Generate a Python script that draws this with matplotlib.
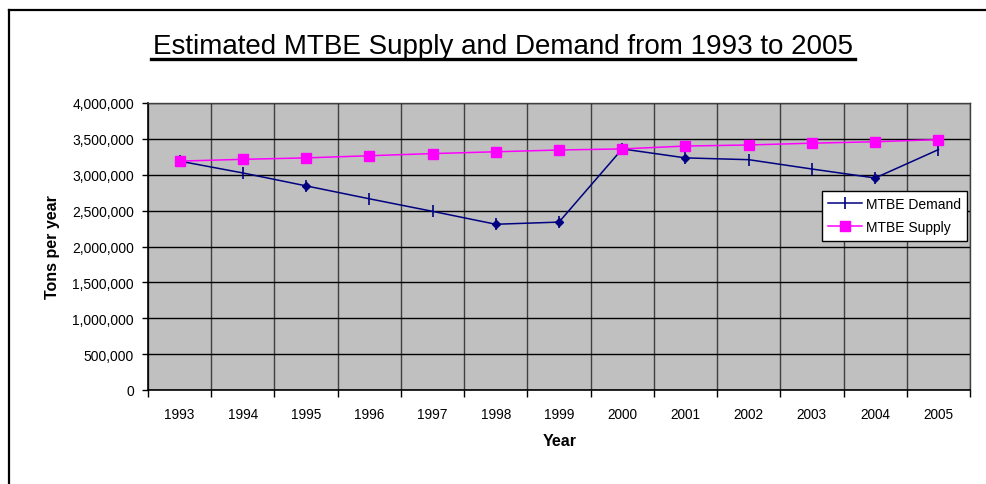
import matplotlib
matplotlib.use("Agg")
import matplotlib.pyplot as plt
from matplotlib.lines import Line2D
from matplotlib.ticker import FuncFormatter, FixedLocator

years = ["1993", "1994", "1995", "1996", "1997", "1998", "1999",
         "2000", "2001", "2002", "2003", "2004", "2005"]
demand = [3190000, 3025000, 2845000, 2665000, 2490000, 2310000, 2340000,
          3360000, 3235000, 3210000, 3080000, 2955000, 3350000]
supply = [3190000, 3215000, 3235000, 3265000, 3295000, 3320000, 3345000,
          3360000, 3400000, 3415000, 3440000, 3460000, 3490000]
diamond_idx = [2, 5, 6, 8, 11]

plt.rcParams['font.family'] = ['Liberation Sans', 'DejaVu Sans']

W, H = 986, 485
fig = plt.figure(figsize=(W / 100, H / 100), dpi=100)
fig.patch.set_facecolor('white')

# outer chart border (top and left edges visible)
fig.add_artist(Line2D([9 / W, 1.0], [1 - 10.5 / H, 1 - 10.5 / H], transform=fig.transFigure,
                      color='black', lw=1.6))
fig.add_artist(Line2D([9 / W, 9 / W], [0, 1 - 10.5 / H], transform=fig.transFigure,
                      color='black', lw=1.6))

left, right, top, bottom = 148, 970, 104, 391
ax = fig.add_axes([left / W, 1 - bottom / H, (right - left) / W, (bottom - top) / H])
ax.set_facecolor('#C0C0C0')

x = list(range(len(years)))
ax.plot(x, demand, color='#000080', lw=1.1, marker='|', markersize=8, mew=1.2, zorder=3,
        label='MTBE Demand')
ax.plot([x[i] for i in diamond_idx], [demand[i] for i in diamond_idx], linestyle='none',
        marker='D', markersize=4.5, color='#000080', zorder=3)
ax.plot(x, supply, color='#FF00FF', lw=1.1, marker='s', markersize=6.5, zorder=4,
        label='MTBE Supply')

ax.set_xlim(-0.5, len(years) - 0.5)
ax.set_ylim(0, 4000000)
ax.set_yticks([i * 500000 for i in range(9)])
ax.yaxis.set_major_formatter(FuncFormatter(lambda v, p: f"{int(v):,}"))
ax.set_xticks(x)
ax.set_xticklabels(years)
ax.xaxis.set_minor_locator(FixedLocator([i - 0.5 for i in range(len(years) + 1)]))

ax.grid(axis='y', which='major', color='black', lw=1.0, zorder=1)
ax.grid(axis='x', which='minor', color='#404040', lw=1.0, zorder=1)
ax.set_axisbelow(True)

ax.tick_params(axis='x', which='major', length=0, pad=12, labelsize=9.8)
ax.tick_params(axis='x', which='minor', length=5, width=1, direction='out')
ax.tick_params(axis='y', which='major', length=4, width=1, direction='out', pad=6, labelsize=10)

for s in ['left', 'bottom']:
    ax.spines[s].set_color('black')
    ax.spines[s].set_linewidth(1.2)
for s in ['top', 'right']:
    ax.spines[s].set_color('#404040')
    ax.spines[s].set_linewidth(1.0)

ax.set_ylabel('Tons per year', fontsize=11.5, fontweight='bold')
ax.yaxis.set_label_coords((60 - left) / (right - left), 0.5)
ax.set_xlabel('Year', fontsize=11.5, fontweight='bold')
ax.xaxis.set_label_coords((560 - left) / (right - left), -(434 - bottom) / (bottom - top))

leg = ax.legend(loc='upper right', bbox_to_anchor=(0.9964, 0.6934), fontsize=10,
                frameon=True, fancybox=False, framealpha=1, edgecolor='black',
                handlelength=2.4, handletextpad=0.3, borderpad=0.45, labelspacing=0.65,
                borderaxespad=0)
leg.get_frame().set_linewidth(1.0)

title = fig.text(503 / W, 1 - 46.5 / H, 'Estimated MTBE Supply and Demand from 1993 to 2005',
                 ha='center', va='center', fontsize=20)
fig.canvas.draw()
bb = title.get_window_extent()
ul_y = 1 - 59.5 / H
fig.add_artist(Line2D([(bb.x0 - 2) / W, (bb.x1 + 2) / W], [ul_y, ul_y], transform=fig.transFigure,
                      color='black', lw=2.4))

fig.savefig('out.png', dpi=100)
